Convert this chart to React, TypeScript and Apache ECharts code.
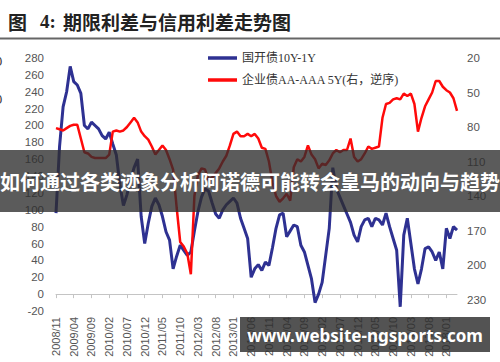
import React, { useEffect, useRef } from "react";
import * as echarts from "echarts";

// Monthly categories 2008/11 .. 2018/04
const categories: string[] = [];
for (let y = 2008; y <= 2018; y++) {
  for (let m = 1; m <= 12; m++) {
    if (y === 2008 && m < 11) continue;
    if (y === 2018 && m > 4) continue;
    categories.push(`${y}/${m < 10 ? "0" + m : m}`);
  }
}

const leftTicks = [-20, 0, 20, 40, 60, 80, 100, 120, 140, 160, 180, 200, 220, 240, 260, 280];
const rightTicks = [20, 50, 80, 110, 140, 170, 200, 230];

// 国开债10Y-1Y (left axis, bp)
const govSpread = [
  96, 175, 222, 240, 270, 252, 248, 238, 200, 196,
  204, 200, 196, 188, 184, 192, 178, 165, 130, 105,
  118, 135, 150, 160, 92, 60, 84, 104, 114, 106,
  92, 74, 64, 30, 45, 58, 52, 46, 50, 75,
  98, 115, 125, 122, 108, 95, 90, 100, 106, 110,
  114, 108, 90, 78, 66, 20, 30, 35, 28, 38,
  34, 55, 78, 94, 96, 68, 75, 82, 80, 58,
  50, 34, 18, -10, 0, 14, 46, 78, 150, 125,
  115, 105, 95, 85, 70, 62, 80, 88, 90, 80,
  90, 88, 82, 96, 80, 66, 52, -15, 70, 90,
  60, 30, 12, 30, 54, 56, 50, 40, 50, 30,
  78, 66, 80, 76,
];

// 企业债AA-AAA 5Y (right axis, inverted, bp)
const creditSpread = [
  81, 82, 83, 81, 79, 78, 78, 90, 102, 103,
  106, 107, 107, 107, 107, 104, 84, 83, 84, 83,
  80, 76, 72, 76, 84, 88, 91, 97, 104, 100,
  96, 100, 108, 117, 150, 180, 184, 190, 208, 140,
  122, 116, 117, 126, 124, 120, 116, 110, 105, 96,
  86, 84, 88, 88, 86, 88, 86, 90, 98, 99,
  110, 128, 140, 145, 142, 138, 144, 115, 108, 110,
  106, 96, 104, 108, 116, 112, 113, 109, 103, 100,
  102, 100, 100, 90, 106, 110, 108, 103, 97, 99,
  98, 97, 72, 60, 59, 56, 55, 56, 51, 53,
  51, 60, 84, 72, 62, 56, 50, 40, 40, 45,
  48, 50, 55, 66,
];

const seriesNames = ["国开债10Y-1Y", "企业债AA-AAA 5Y(右，逆序)"];
const titleText = "期限利差与信用利差走势图";
const bannerText = "如何通过各类迹象分析阿诺德可能转会皇马的动向与趋势";
const siteText = "www.website-ngsports.com";

export default function App() {
  const ref = useRef<HTMLDivElement>(null);
  useEffect(() => {
    const chart = echarts.init(ref.current!, null, { renderer: "svg" });
    const labelFont = "'Liberation Sans', Arial, sans-serif";
    chart.setOption({
      animation: false,
      backgroundColor: "#ffffff",
      grid: { left: 56, right: 43, top: 58, bottom: 51, containLabel: false },
      legend: {
        orient: "vertical",
        left: 203,
        top: 47,
        itemWidth: 29,
        itemHeight: 3.5,
        itemGap: 10,
        icon: "rect",
        data: seriesNames,
        textStyle: {
          fontSize: 12,
          color: "#333",
          fontFamily: "'Liberation Serif', 'Noto Sans CJK SC', serif",
        },
      },
      xAxis: {
        type: "category",
        data: categories,
        boundaryGap: false,
        axisLine: { onZero: true, lineStyle: { color: "#c4c4c4", width: 1 } },
        axisTick: { show: true, interval: 4, length: 4, lineStyle: { color: "#c4c4c4" } },
        axisLabel: {
          interval: 4,
          rotate: 90,
          fontSize: 11,
          color: "#555",
          margin: 6,
          fontFamily: labelFont,
        },
        splitLine: { show: false },
      },
      yAxis: [
        {
          type: "value",
          min: leftTicks[0],
          max: leftTicks[leftTicks.length - 1],
          interval: 20,
          axisLine: { show: false },
          axisTick: { show: false },
          splitLine: { show: false },
          axisLabel: { fontSize: 11.5, color: "#555", margin: 12, fontFamily: labelFont },
        },
        {
          type: "value",
          position: "right",
          inverse: true,
          min: rightTicks[0],
          max: 240,
          interval: 30,
          axisLine: { show: false },
          axisTick: { show: false },
          splitLine: { show: false },
          axisLabel: {
            fontSize: 11.5,
            color: "#555",
            margin: 10,
            fontFamily: labelFont,
            formatter: (v: number) => (rightTicks.indexOf(v) >= 0 ? String(v) : ""),
          },
        },
      ],
      series: [
        {
          name: seriesNames[0],
          type: "line",
          data: govSpread,
          yAxisIndex: 0,
          symbol: "none",
          lineStyle: { color: "#2E3192", width: 3 },
          itemStyle: { color: "#2E3192" },
          z: 2,
        },
        {
          name: seriesNames[1],
          type: "line",
          data: creditSpread,
          yAxisIndex: 1,
          symbol: "none",
          lineStyle: { color: "#FF0a0a", width: 2.5 },
          itemStyle: { color: "#FF0a0a" },
          z: 3,
        },
      ],
      graphic: [
        {
          type: "text",
          left: 8,
          top: 12,
          style: { text: "图", fontSize: 19, fontWeight: "bold", fill: "#222", fontFamily: "'Noto Sans CJK SC'" },
        },
        {
          type: "text",
          left: 40,
          top: 12,
          style: { text: "4:", fontSize: 19, fontWeight: "bold", fill: "#222", fontFamily: "'Liberation Serif', serif" },
        },
        {
          type: "text",
          left: 63,
          top: 12,
          style: { text: titleText, fontSize: 19, fontWeight: "bold", fill: "#222", fontFamily: "'Noto Sans CJK SC'" },
        },
        {
          type: "line",
          shape: { x1: 0, y1: 38.5, x2: 500, y2: 38.5 },
          style: { stroke: "#666", lineWidth: 2 },
        },
        {
          type: "text",
          x: -5,
          y: 55,
          style: { text: "0", fontSize: 13, fill: "#333", fontFamily: labelFont },
        },
        {
          type: "text",
          x: -5,
          y: 93,
          style: { text: "0", fontSize: 13, fill: "#333", fontFamily: labelFont },
        },
        {
          type: "rect",
          z: 100,
          shape: { x: 0, y: 150, width: 500, height: 62 },
          style: { fill: "rgba(45,45,45,0.78)" },
        },
        {
          type: "text",
          z: 101,
          x: 250,
          y: 181,
          style: {
            text: bannerText,
            fontSize: 20,
            fontWeight: "bold",
            fill: "#ffffff",
            align: "center",
            verticalAlign: "middle",
            fontFamily: "'Noto Sans CJK SC'",
          },
        },
        {
          type: "rect",
          z: 100,
          shape: { x: 240, y: 317, width: 250, height: 35 },
          style: { fill: "rgba(45,45,45,0.82)" },
        },
        {
          type: "text",
          z: 101,
          x: 365,
          y: 335,
          style: {
            text: siteText,
            fontSize: 17,
            fontWeight: "bold",
            fill: "#ffffff",
            align: "center",
            verticalAlign: "middle",
            fontFamily: "'Noto Sans', sans-serif",
          },
        },
      ],
    });
    return () => chart.dispose();
  }, []);
  return (
    <div
      ref={ref}
      style={{ width: 500, height: 362, position: "absolute", left: 0, top: 0, background: "#fff" }}
    />
  );
}
